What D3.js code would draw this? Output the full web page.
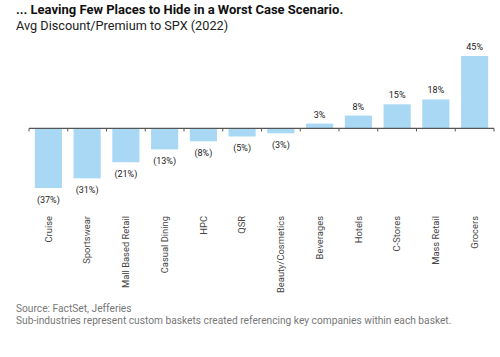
<!DOCTYPE html>
<html><head><meta charset="utf-8">
<script src="https://cdn.jsdelivr.net/npm/d3@7"></script>
<style>body{margin:0;background:#fff;font-family:Roboto,"Noto Sans",sans-serif;}</style>
</head><body><svg id="c" width="500" height="357"></svg>
<script>
const categories = ["Cruise","Sportswear","Mall Based Retail","Casual Dining","HPC","QSR","Beauty/Cosmetics","Beverages","Hotels","C-Stores","Mass Retail","Grocers"];
const values = [-37,-31,-21,-13,-8,-5,-3,3,8,15,18,45];
const labels = ["(37%)","(31%)","(21%)","(13%)","(8%)","(5%)","(3%)","3%","8%","15%","18%","45%"];

const svg = d3.select("#c");
const x = d3.scaleBand().domain(categories).range([29,494]).paddingInner(0.3).paddingOuter(0.15);
const y = d3.scaleLinear().domain([-37,45]).range([188,56]);

svg.append("text").attr("x",16).attr("y",14).attr("font-size",13).attr("font-weight","bold").attr("fill","#111")
  .text("... Leaving Few Places to Hide in a Worst Case Scenario.");
svg.append("text").attr("x",16).attr("y",30).attr("font-size",12.7).attr("fill","#222")
  .text("Avg Discount/Premium to SPX (2022)");

svg.selectAll("rect.bar").data(values).join("rect").attr("class","bar")
  .attr("x",(d,i)=>x(categories[i]))
  .attr("width",x.bandwidth())
  .attr("y",d=>y(Math.max(0,d)))
  .attr("height",d=>Math.abs(y(d)-y(0)))
  .attr("fill","#a9d8f5");

const x0 = x.range()[0];
svg.append("line").attr("x1",x0).attr("x2",x.range()[1]).attr("y1",y(0)).attr("y2",y(0)).attr("stroke","#555").attr("stroke-width",1.2);
const bounds = d3.range(categories.length+1).map(i=>x0 + i*(x.range()[1]-x0)/categories.length);
svg.selectAll("line.tk").data(bounds).join("line").attr("class","tk")
  .attr("x1",d=>d).attr("x2",d=>d).attr("y1",y(0)).attr("y2",y(0)+3).attr("stroke","#555");

svg.selectAll("text.val").data(values).join("text").attr("class","val")
  .attr("x",(d,i)=>x(categories[i])+x.bandwidth()/2)
  .attr("y",d=> d>=0 ? y(d)-6 : y(d)+15)
  .attr("text-anchor","middle").attr("font-size",9).attr("fill","#222")
  .text((d,i)=>labels[i]);

svg.selectAll("text.cat").data(categories).join("text").attr("class","cat")
  .attr("transform",d=>`translate(${x(d)+x.bandwidth()/2+3.2},216) rotate(-90)`)
  .attr("text-anchor","end").attr("font-size",9.4).attr("fill","#444")
  .text(d=>d);

svg.append("text").attr("x",16).attr("y",312).attr("font-size",10.2).attr("fill","#777").text("Source: FactSet, Jefferies");
svg.append("text").attr("x",16).attr("y",323.5).attr("font-size",10.2).attr("fill","#777").text("Sub-industries represent custom baskets created referencing key companies within each basket.");
</script></body></html>
